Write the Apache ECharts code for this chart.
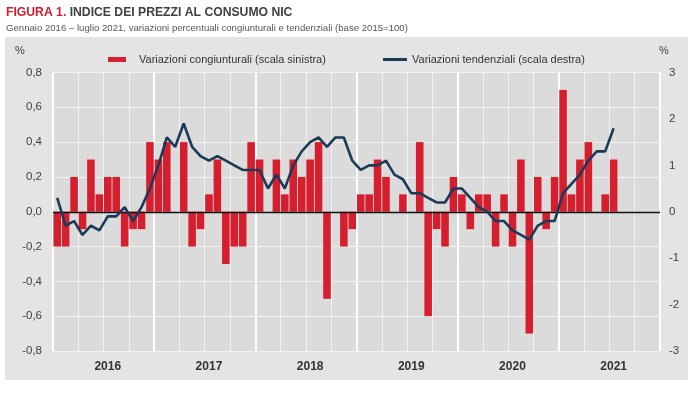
<!DOCTYPE html>
<html><head><meta charset="utf-8">
<script src="https://cdn.jsdelivr.net/npm/echarts/dist/echarts.min.js"></script>
<style>html,body{margin:0;padding:0;background:#fff}#c{width:700px;height:394px}</style>
</head><body><div id="c"></div>
<script>
var years = ['2016','2017','2018','2019','2020','2021'];
var monthsPerYear = 12;
var congiunturali = [
 -0.2,-0.2,0.2,-0.1,0.3,0.1,0.2,0.2,-0.2,-0.1,-0.1,0.4,
 0.3,0.4,0.0,0.4,-0.2,-0.1,0.1,0.3,-0.3,-0.2,-0.2,0.4,
 0.3,0.0,0.3,0.1,0.3,0.2,0.3,0.4,-0.5,0.0,-0.2,-0.1,
 0.1,0.1,0.3,0.2,0.0,0.1,0.0,0.4,-0.6,-0.1,-0.2,0.2,
 0.1,-0.1,0.1,0.1,-0.2,0.1,-0.2,0.3,-0.7,0.2,-0.1,0.2,
 0.7,0.1,0.3,0.4,0.0,0.1,0.3
];
var tendenziali = [
 0.3,-0.3,-0.2,-0.5,-0.3,-0.4,-0.1,-0.1,0.1,-0.2,0.1,0.5,
 1.0,1.6,1.4,1.9,1.4,1.2,1.1,1.2,1.1,1.0,0.9,0.9,
 0.9,0.5,0.8,0.5,1.0,1.3,1.5,1.6,1.4,1.6,1.6,1.1,
 0.9,1.0,1.0,1.1,0.8,0.7,0.4,0.4,0.3,0.2,0.2,0.5,
 0.5,0.3,0.1,0.0,-0.2,-0.2,-0.4,-0.5,-0.6,-0.3,-0.2,-0.2,
 0.4,0.6,0.8,1.1,1.3,1.3,1.8
];
var leftTicks = {min:-0.8, max:0.8, interval:0.2};
var rightTicks = {min:-3, max:3, interval:1};
var nameBar = 'Variazioni congiunturali (scala sinistra)';
var nameLine = 'Variazioni tendenziali (scala destra)';

var months = [];
years.forEach(function(y){ for (var m=1;m<=monthsPerYear;m++) months.push(y+'-'+(m<10?'0':'')+m); });

var SANS = '"Liberation Sans",Arial,sans-serif';
var chart = echarts.init(document.getElementById('c'), null, {renderer:'canvas'});
chart.setOption({
  animation: false,
  backgroundColor: '#ffffff',
  title: {
    left: 1, top: 2, itemGap: 4,
    text: '{a|FIGURA 1. }{b|INDICE DEI PREZZI AL CONSUMO NIC}',
    textStyle: { rich: {
      a: {fontFamily: SANS, fontWeight:'bold', fontSize:12.2, color:'#d7192b'},
      b: {fontFamily: SANS, fontWeight:'bold', fontSize:12.2, color:'#404040'}
    }},
    subtext: 'Gennaio 2016 \u2013 luglio 2021, variazioni percentuali congiunturali e tendenziali (base 2015=100)',
    subtextStyle: {fontFamily: SANS, fontSize: 9.6, color:'#555'}
  },
  graphic: [
    {type:'rect', z:-10, shape:{x:5,y:37,width:683,height:343}, style:{fill:'#e4e4e4'}},
    {type:'text', left:15, top:45, style:{text:'%', font:'11px '+SANS, fill:'#404040'}},
    {type:'text', left:659, top:45, style:{text:'%', font:'11px '+SANS, fill:'#404040'}}
  ],
  legend: [
    {left:103, top:49, itemWidth:18, itemHeight:5,
     textStyle:{fontFamily:SANS, fontSize:11, color:'#333', padding:[0,0,0,8]},
     data:[{name:nameBar, icon:'rect'}]},
    {left:378, top:49, itemWidth:24, itemHeight:3,
     textStyle:{fontFamily:SANS, fontSize:11, color:'#333'},
     data:[{name:nameLine, icon:'rect'}]}
  ],
  grid: {left:53, right:40, top:72.5, bottom:43, show:true, backgroundColor:'#dbdbdb', borderWidth:0},
  xAxis: [
    {type:'category', data: months, boundaryGap:true,
     axisLine:{show:false}, axisTick:{show:false},
     axisLabel:{interval:function(i){return i%12===6;}, formatter:function(v){return v.slice(0,4);},
       fontFamily:SANS, fontWeight:'bold', fontSize:12, color:'#333', margin:10},
     splitLine:{show:true, interval:function(i){return i%3===0;}, lineStyle:{color:'#f2f2f2', width:1}}},
    {type:'category', data: years, position:'top', boundaryGap:true,
     axisLine:{show:false}, axisTick:{show:false}, axisLabel:{show:false},
     splitLine:{show:true, lineStyle:{color:'#ffffff', width:2}}}
  ],
  yAxis: [
    {type:'value', min:leftTicks.min, max:leftTicks.max, interval:leftTicks.interval,
     axisLine:{show:false}, axisTick:{show:false},
     axisLabel:{formatter:function(v){return v.toFixed(1).replace('.',',');}, fontFamily:SANS, fontSize:11.5, color:'#404040', margin:11},
     splitLine:{show:true, lineStyle:{color:'#f2f2f2', width:1}}},
    {type:'value', min:rightTicks.min, max:rightTicks.max, interval:rightTicks.interval, position:'right',
     axisLine:{show:false}, axisTick:{show:false},
     axisLabel:{fontFamily:SANS, fontSize:11.5, color:'#404040', margin:9},
     splitLine:{show:false}}
  ],
  series: [
    {name:nameBar, type:'bar', data:congiunturali, xAxisIndex:0, yAxisIndex:0,
     barCategoryGap:'10%', itemStyle:{color:'#d51f2e'},
     markLine:{silent:true, symbol:'none', label:{show:false}, lineStyle:{color:'#111', width:1.3, type:'solid'},
       data:[{yAxis:0}]}},
    {name:nameLine, type:'line', data:tendenziali, xAxisIndex:0, yAxisIndex:1,
     symbol:'none', lineStyle:{color:'#1c3a57', width:2.6}, itemStyle:{color:'#1c3a57'}, z:5}
  ]
});
</script></body></html>
